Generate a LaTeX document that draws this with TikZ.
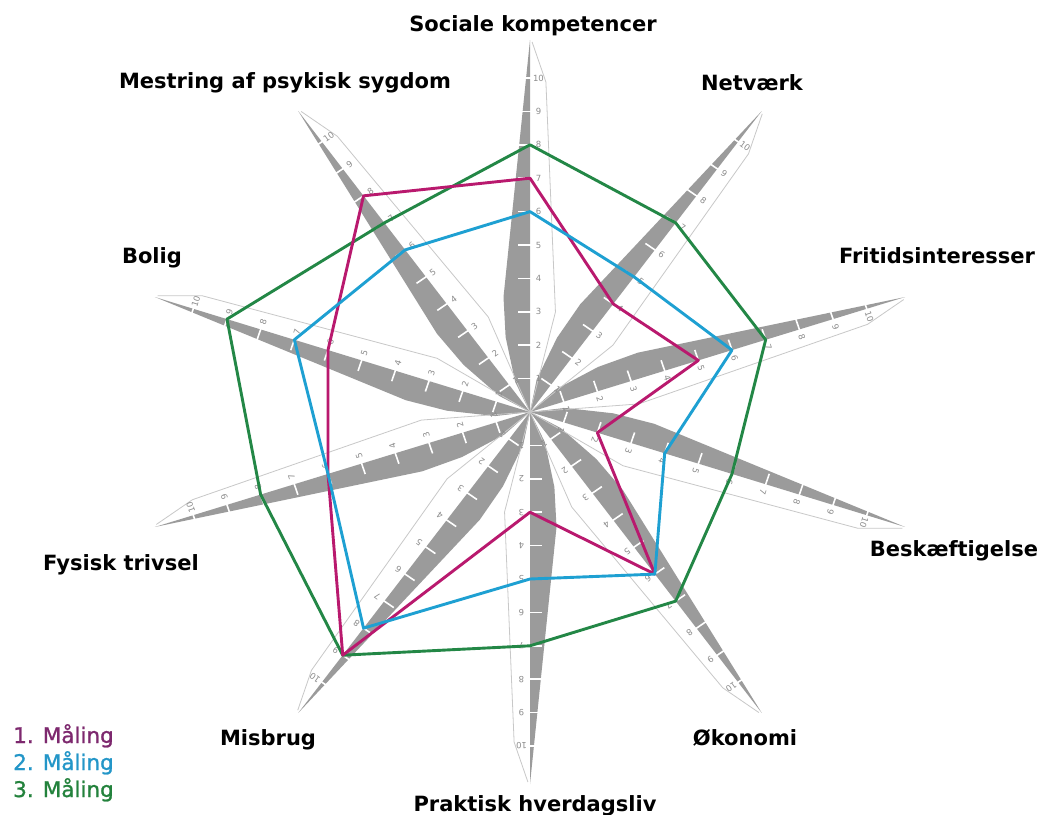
\documentclass[tikz,border=0pt]{standalone}
\usepackage{fontspec}
\setmainfont{DejaVu Sans}
\newfontfamily\legfont{DejaVu Sans}[FakeBold=1.1]
\definecolor{spike}{RGB}{155,155,155}
\definecolor{thinl}{RGB}{200,200,200}
\definecolor{numc}{RGB}{140,140,140}
\definecolor{mpink}{RGB}{185,25,110}
\definecolor{mblue}{RGB}{30,160,210}
\definecolor{mgreen}{RGB}{35,135,70}
\definecolor{lpurple}{RGB}{125,40,110}
\definecolor{lblue}{RGB}{35,150,200}
\definecolor{lgreen}{RGB}{35,130,60}
\begin{document}
\begin{tikzpicture}[x=1pt,y=-1pt,
  axlabel/.style={font=\fontsize{21}{24}\selectfont\bfseries, text=black, inner sep=0, anchor=base},
  legend/.style={font=\legfont\fontsize{21.5}{24}\selectfont, inner sep=0, anchor=base west},
  ticklab/.style={font=\fontsize{8.5}{9}\selectfont, text=numc, inner sep=0},
  series/.style={line width=2.9pt, line join=round}]
\useasboundingbox (0,0) rectangle (1041,814);
\fill[white] (0,0) rectangle (1041,814);
% spikes (blades)
\foreach \k in {0,...,9}{
  \pgfmathsetmacro{\th}{36*\k}
  \begin{scope}[shift={(530,412)}, xscale=1.06, rotate=-\th]
    \fill[spike] (0,0) -- (-14,-30) -- (-23,-75) -- (-25,-115) -- (0,-372) -- cycle;
  \end{scope}
}
% thin lines, ticks, numbers
\foreach \k in {0,...,9}{
  \pgfmathsetmacro{\th}{36*\k}
  \begin{scope}[shift={(530,412)}, xscale=1.06, rotate=-\th]
    \draw[thinl, line width=0.8pt] (0,0) -- (24,-100) -- (15,-330) -- (2,-370);
    \foreach \v in {1,...,10}{
      \draw[white, line width=1.6pt] (1,-33.4*\v) -- (-11,-33.4*\v);
    }
    \foreach \v in {1,...,10}{
      \node[ticklab, rotate=-\th] (n\k-\v) at (8,-33.4*\v) {\v};
    }
  \end{scope}
}
% data points
\foreach \v [count=\k from 0] in {7,4,5,2,6,3,9,6,6,8}
  \coordinate (P\k) at ({530+35.4*\v*sin(36*\k)}, {412-33.4*\v*cos(36*\k)});
\foreach \v [count=\k from 0] in {6,5,6,4,6,5,8,6,7,6}
  \coordinate (B\k) at ({530+35.4*\v*sin(36*\k)}, {412-33.4*\v*cos(36*\k)});
\foreach \v [count=\k from 0] in {8,7,7,6,7,7,9,8,9,7}
  \coordinate (G\k) at ({530+35.4*\v*sin(36*\k)}, {412-33.4*\v*cos(36*\k)});
\draw[series, mgreen] (G0) -- (G1) -- (G2) -- (G3) -- (G4) -- (G5) -- (G6) -- (G7) -- (G8) -- (G9) -- cycle;
\draw[series, mpink] (P0) -- (P1) -- (P2) -- (P3) -- (P4) -- (P5) -- (P6) -- (P7) -- (P8) -- (P9) -- cycle;
\draw[series, mblue] (B0) -- (B1) -- (B2) -- (B3) -- (B4) -- (B5) -- (B6) -- (B7) -- (B8) -- (B9) -- cycle;
% axis labels
\node[axlabel] (l0) at (533,31) {Sociale kompetencer};
\node[axlabel] (l1) at (752,90) {Netværk};
\node[axlabel] (l2) at (937,263) {Fritidsinteresser};
\node[axlabel] (l3) at (954,556) {Beskæftigelse};
\node[axlabel] (l4) at (745,745) {Økonomi};
\node[axlabel] (l5) at (535,811) {Praktisk hverdagsliv};
\node[axlabel] (l6) at (268,745) {Misbrug};
\node[axlabel] (l7) at (121,570) {Fysisk trivsel};
\node[axlabel] (l8) at (152,263) {Bolig};
\node[axlabel] (l9) at (285,88) {Mestring af psykisk sygdom};
% legend
\node[legend, text=lpurple] (m1) at (13,743) {1. Måling};
\node[legend, text=lblue] (m2) at (13,770) {2. Måling};
\node[legend, text=lgreen] (m3) at (13,797) {3. Måling};
\end{tikzpicture}
\end{document}
